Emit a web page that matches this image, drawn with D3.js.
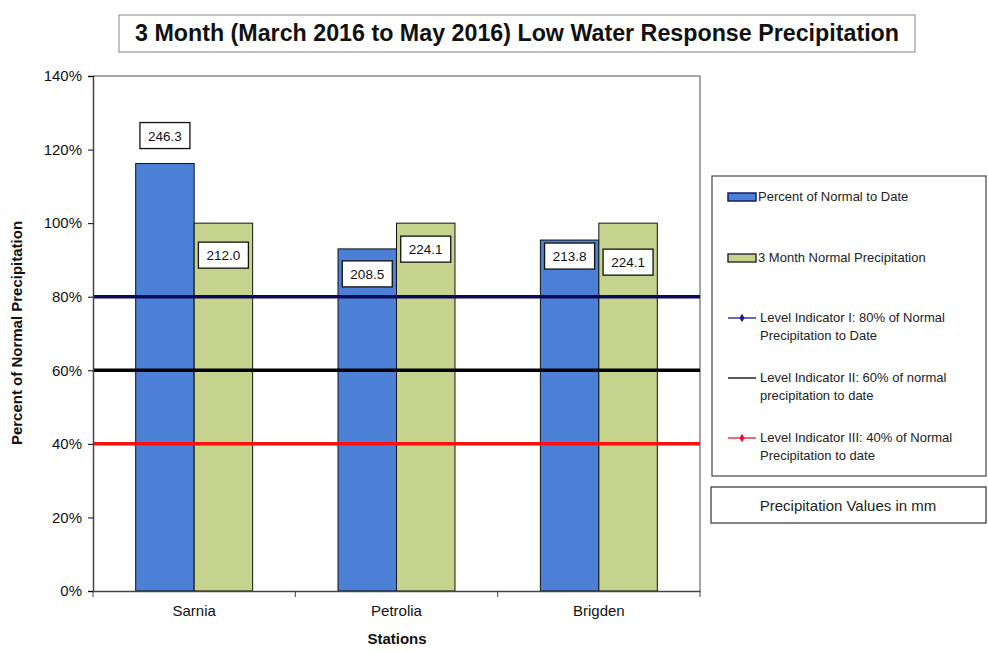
<!DOCTYPE html>
<html>
<head>
<meta charset="utf-8">
<script src="https://cdn.jsdelivr.net/npm/d3@7"></script>
<style>
  body { margin: 0; background: #fff; }
  svg { font-family: Arial, "Liberation Sans", sans-serif; }
</style>
</head>
<body>
<svg id="chart" width="988" height="652"></svg>
<script>
// data
var stations = ['Sarnia', 'Petrolia', 'Brigden'];
var pctToDate = [116.2, 93.0, 95.4];        // percent of normal to date
var pctNormal = [100, 100, 100];            // 3 month normal
var mmToDate = ['246.3', '208.5', '213.8'];
var mmNormal = ['212.0', '224.1', '224.1'];
var levels = [80, 60, 40];
var levelNames = [
	['Level Indicator I: 80% of Normal', 'Precipitation to Date'],
	['Level Indicator II: 60% of normal', 'precipitation to date'],
	['Level Indicator III: 40% of Normal', 'Precipitation to date']
];
var yTicks = [0, 20, 40, 60, 80, 100, 120, 140];

drawChart();

function drawChart() {
	var svg = d3.select('#chart');
	var m = {left: 93, right: 700, top: 76, bottom: 591};
	var blue = '#4b80d6', green = '#c6d38c';
	var lvlColor = ['#0a0a5a', '#000000', '#ff1010'];

	var x = d3.scaleBand().domain(stations).range([m.left, m.right]).paddingInner(0).paddingOuter(0);
	var x1 = d3.scaleBand().domain(['a', 'b']).range([0, x.bandwidth()]).paddingOuter(0.73).paddingInner(0);
	var y = d3.scaleLinear().domain([0, 140]).range([m.bottom, m.top]);

	//title box
	svg.append('rect').attr('x', 119).attr('y', 15).attr('width', 796).attr('height', 37)
		.attr('fill', '#fff').attr('stroke', '#999').attr('stroke-width', 1.2);
	svg.append('text').attr('x', 135).attr('y', 41)
		.attr('textLength', 764).attr('lengthAdjust', 'spacingAndGlyphs')
		.style('font-size', '23px').style('font-weight', 'bold').attr('fill', '#111')
		.text('3 Month (March 2016 to May 2016) Low Water Response Precipitation');

	//plot frame
	svg.append('path')
		.attr('d', 'M' + m.left + ',' + m.top + 'H' + m.right + 'V' + m.bottom)
		.attr('fill', 'none').attr('stroke', '#888').attr('stroke-width', 1.5);

	//bars
	var g = svg.append('g');
	stations.forEach(function(s, i) {
		var bars = [
			{k: 'a', v: pctToDate[i], c: blue},
			{k: 'b', v: pctNormal[i], c: green}
		];
		g.selectAll(null).data(bars).enter().append('rect')
			.attr('x', d => x(s) + x1(d.k))
			.attr('y', d => y(d.v))
			.attr('width', x1.bandwidth())
			.attr('height', d => y(0) - y(d.v))
			.attr('fill', d => d.c)
			.attr('stroke', '#111').attr('stroke-width', 1);
	});

	//level lines
	levels.forEach(function(l, i) {
		svg.append('line')
			.attr('x1', m.left).attr('x2', m.right)
			.attr('y1', y(l)).attr('y2', y(l))
			.attr('stroke', lvlColor[i]).attr('stroke-width', 3.5);
	});

	//value labels (moved by hand in the original)
	var nudge = [[-28, 32], [25, 26], [16, 39]];
	stations.forEach(function(s, i) {
		[[mmToDate[i], 'a', pctToDate[i]], [mmNormal[i], 'b', pctNormal[i]]].forEach(function(d, j) {
			var cx = x(s) + x1(d[1]) + x1.bandwidth() / 2;
			var cy = y(d[2]) + nudge[i][j];
			svg.append('rect').attr('x', cx - 25).attr('y', cy - 13).attr('width', 50).attr('height', 26)
				.attr('fill', '#fff').attr('stroke', '#111').attr('stroke-width', 1.3);
			svg.append('text').attr('x', cx).attr('y', cy + 5).attr('text-anchor', 'middle')
				.style('font-size', '13.5px').attr('fill', '#111').text(d[0]);
		});
	});

	//axes
	var yAxis = d3.axisLeft(y).tickValues(yTicks).tickFormat(d => d + '%').tickSize(5).tickPadding(6);
	var ya = svg.append('g').attr('transform', 'translate(' + m.left + ',0)').call(yAxis);
	ya.select('.domain').attr('stroke', '#444').attr('stroke-width', 1.5);
	ya.selectAll('text').style('font-size', '15px').attr('fill', '#111');

	var xa = svg.append('g').attr('transform', 'translate(0,' + m.bottom + ')')
		.call(d3.axisBottom(x).tickSize(0).tickPadding(14));
	xa.select('.domain').attr('stroke', '#444').attr('stroke-width', 1.5);
	xa.selectAll('text').style('font-size', '15px').attr('fill', '#111');
	//ticks between categories
	xa.selectAll('.sep').data([0, 1, 2, 3]).enter().append('line')
		.attr('x1', d => m.left + d * x.bandwidth()).attr('x2', d => m.left + d * x.bandwidth())
		.attr('y1', 0).attr('y2', 6).attr('stroke', '#444');

	svg.append('text').attr('x', 397).attr('y', 644).attr('text-anchor', 'middle')
		.style('font-size', '15px').style('font-weight', 'bold').attr('fill', '#111').text('Stations');
	svg.append('text').attr('transform', 'translate(22,333) rotate(-90)').attr('text-anchor', 'middle')
		.style('font-size', '15px').style('font-weight', 'bold').attr('fill', '#111')
		.text('Percent of Normal Precipitation');

	//legend
	var lg = svg.append('g');
	lg.append('rect').attr('x', 712).attr('y', 176).attr('width', 274).attr('height', 300)
		.attr('fill', '#fff').attr('stroke', '#444').attr('stroke-width', 1.2);
	var sw = [[blue, '#1a1a6a', 'Percent of Normal to Date', 197], [green, '#333', '3 Month Normal Precipitation', 258]];
	sw.forEach(function(d) {
		lg.append('rect').attr('x', 728).attr('y', d[3] - 4).attr('width', 28).attr('height', 8)
			.attr('fill', d[0]).attr('stroke', d[1]).attr('stroke-width', 1.5);
		lg.append('text').attr('x', 758).attr('y', d[3] + 4).style('font-size', '13px').attr('fill', '#222').text(d[2]);
	});
	var lgY = [318, 378, 438];
	levels.forEach(function(l, i) {
		lg.append('line').attr('x1', 728).attr('x2', 756).attr('y1', lgY[i]).attr('y2', lgY[i])
			.attr('stroke', i == 0 ? '#1a1a8a' : (i == 1 ? '#000' : '#e8103a')).attr('stroke-width', 1.3);
		if (i != 1) {
			lg.append('path').attr('d', d3.symbol(d3.symbolDiamond, 22)())
				.attr('transform', 'translate(742,' + lgY[i] + ')')
				.attr('fill', i == 0 ? '#1a1a8a' : '#e8103a');
		}
		lg.append('text').attr('x', 760).attr('y', lgY[i] + 4).style('font-size', '13px').attr('fill', '#222').text(levelNames[i][0]);
		lg.append('text').attr('x', 760).attr('y', lgY[i] + 22).style('font-size', '13px').attr('fill', '#222').text(levelNames[i][1]);
	});

	lg.append('rect').attr('x', 711).attr('y', 487).attr('width', 275).attr('height', 36)
		.attr('fill', '#fff').attr('stroke', '#333').attr('stroke-width', 1.2);
	lg.append('text').attr('x', 848).attr('y', 511).attr('text-anchor', 'middle')
		.style('font-size', '15px').attr('fill', '#222').text('Precipitation Values in mm');
}
</script>
</body>
</html>
